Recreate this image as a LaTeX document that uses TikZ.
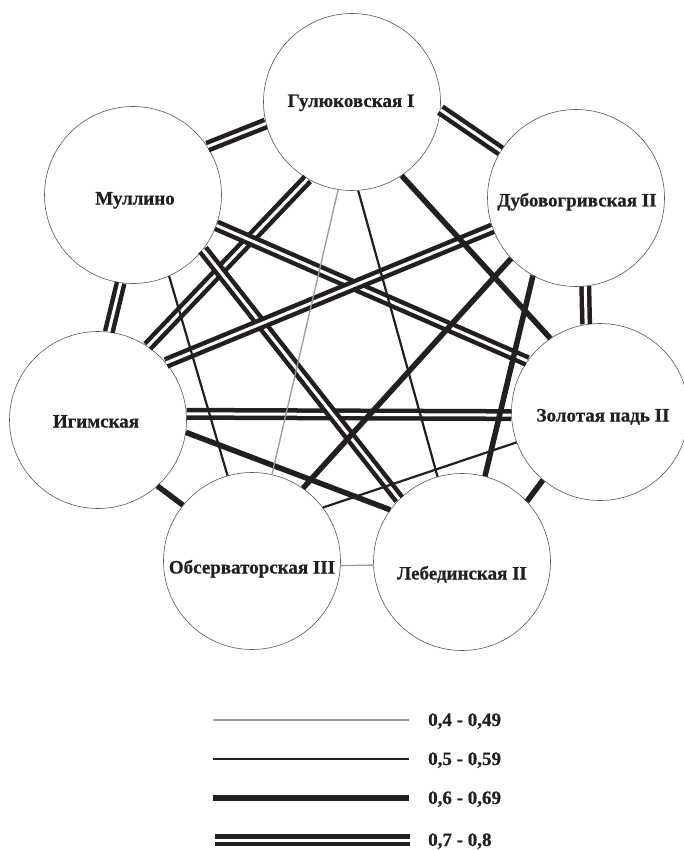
\documentclass[tikz,border=0pt]{standalone}
\usepackage{fontspec}
\setmainfont{Liberation Serif}[BoldFeatures={FakeBold=0.7}]
\definecolor{ink}{RGB}{35,31,32}
\begin{document}
\begin{tikzpicture}[x=1pt,y=-1pt,
  site/.style={circle, draw=black!65, line width=0.6pt, fill=white, minimum size=177pt, inner sep=0pt},
  lbl/.style={anchor=base, font=\fontsize{19}{22}\selectfont\bfseries, text=ink, inner sep=0pt},
  wA/.style={draw=black!40, line width=1.3pt},
  wB/.style={draw=ink, line width=2.2pt},
  wC/.style={draw=ink, line width=5.5pt},
  wD/.style={draw=ink, double=white, line width=4.5pt, double distance=3pt},
]
\useasboundingbox (0,0) rectangle (683,850);

% sites
\node[site] (G) at (352,102) {};
\node[site] (M) at (133,195) {};
\node[site] (D) at (576,198) {};
\node[site] (I) at (98,420) {};
\node[site] (Z) at (600,412) {};
\node[site] (O) at (252,561) {};
\node[site] (L) at (462,562) {};

% connections 0,7 - 0,8
\draw[wD] (G.194) -- (M.33);
\draw[wD] (G.355) -- (D.148);
\draw[wD] (M.262) -- (I.83);
\draw[wD] (D.276) -- (Z.99);
\draw[wD] (I.4) -- (Z.182);
\draw[wD] (G.240) -- (I.56);
\draw[wD] (M.340) -- (Z.145);
\draw[wD] (M.322) -- (L.135);
\draw[wD] (D.200) -- (I.40);
% connections 0,6 - 0,69
\draw[wC] (I.312) -- (O.141);
\draw[wC] (Z.230) -- (L.43);
\draw[wC] (G.304) -- (Z.124);
\draw[wC] (D.223) -- (O.55);
\draw[wC] (D.241) -- (L.75);
\draw[wC] (I.352) -- (L.144);
% connections 0,5 - 0,59
\draw[wB] (G.274) -- (L.106);
\draw[wB] (M.294) -- (O.106);
\draw[wB] (Z.200) -- (O.37);
% connections 0,4 - 0,49
\draw[wA] (G.261) -- (O.77);
\draw[wA] (O.357) -- (L.182);

% labels
\node[lbl] (Gt) at (351,107) {Гулюковская I};
\node[lbl] (Mt) at (135,204.5) {Муллино};
\node[lbl] (Dt) at (577,206.5) {Дубовогривская II};
\node[lbl] (It) at (96,427.5) {Игимская};
\node[lbl] (Zt) at (603,421.5) {Золотая падь II};
\node[lbl] (Ot) at (252,573.5) {Обсерваторская III};
\node[lbl] (Lt) at (462,579.5) {Лебединская II};

% legend
\coordinate (a1) at (213,720); \coordinate (a2) at (409,720);
\coordinate (b1) at (213,759); \coordinate (b2) at (409,759);
\coordinate (c1) at (213,798); \coordinate (c2) at (409,798);
\coordinate (d1) at (215,840); \coordinate (d2) at (410,840);
\draw[wA] (a1) -- (a2);
\draw[wB] (b1) -- (b2);
\draw[wC] (c1) -- (c2);
\draw[wD] (d1) -- (d2);
\node[lbl, anchor=base west] (ta) at (428,726) {0,4 - 0,49};
\node[lbl, anchor=base west] (tb) at (428,765) {0,5 - 0,59};
\node[lbl, anchor=base west] (tc) at (428,804) {0,6 - 0,69};
\node[lbl, anchor=base west] (td) at (428,846) {0,7 - 0,8};
\end{tikzpicture}
\end{document}
